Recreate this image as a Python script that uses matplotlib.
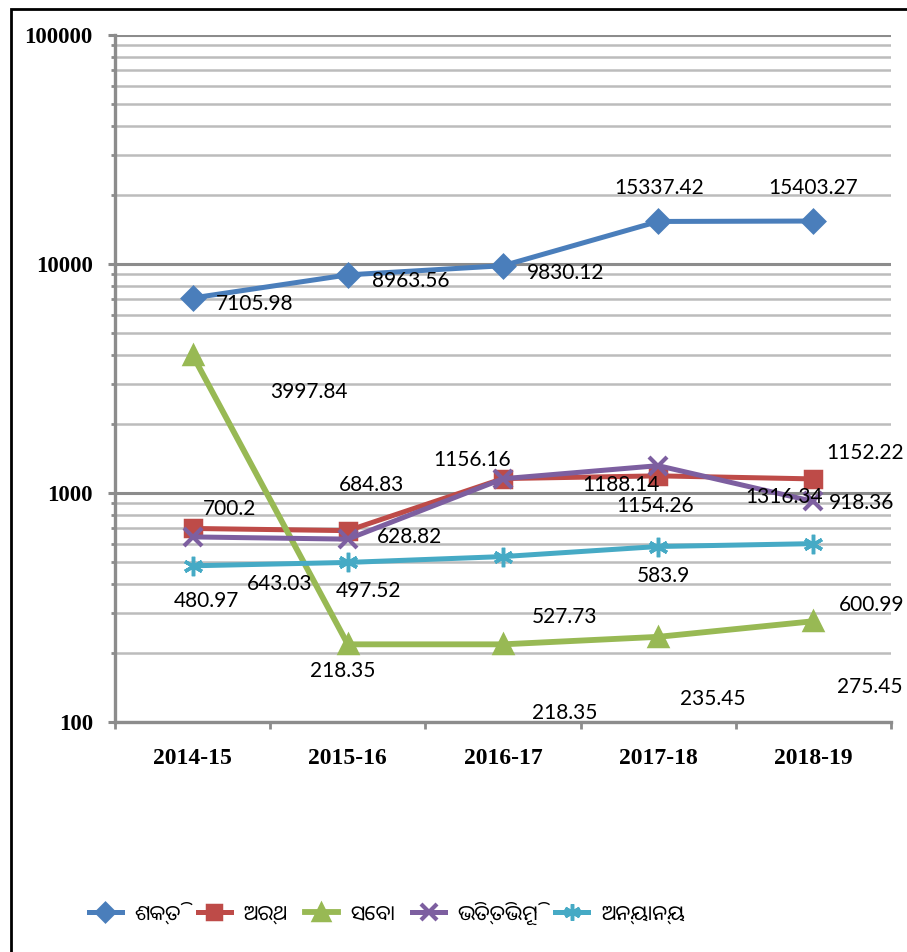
import numpy as np
import matplotlib
matplotlib.use('Agg')
import matplotlib.pyplot as plt
from matplotlib.patches import Rectangle
from matplotlib.ticker import LogLocator, NullFormatter, FixedLocator

# data
years = ['2014-15', '2015-16', '2016-17', '2017-18', '2018-19']
names = ['ଶକ୍ତି', 'ଅର୍ଥ', 'ସେବା', 'ଭିତ୍ତିଭୂମି', 'ଅନ୍ୟାନ୍ୟ']
shakti = [7105.98, 8963.56, 9830.12, 15337.42, 15403.27]
artha = [700.2, 684.83, 1156.16, 1188.14, 1152.22]
seba = [3997.84, 218.35, 218.35, 235.45, 275.45]
bhitti = [643.03, 628.82, 1154.26, 1316.34, 918.36]
anyanya = [480.97, 497.52, 527.73, 583.9, 600.99]

series = [shakti, artha, seba, bhitti, anyanya]
colors = ['#4a7ebb', '#be4b48', '#98b954', '#7d5fa0', '#46aac5']
markers = ['D', 's', '^', 'x', (6, 2, 0)]
msizes = [11, 12, 13, 13, 14]
lws = [3.6, 3.6, 4.2, 3.6, 3.6]

# label offsets in pixels (dx, dy, ha) per series per point
offs = [
    [(23, -6, 'left'), (24, -6, 'left'), (24, -7, 'left'), (1, 33, 'center'), (0, 33, 'center')],
    [(37, 19, 'center'), (24, 46, 'center'), (-31, 19, 'center'), (-37, -9, 'center'), (52, 26, 'center')],
    [(116, -37, 'center'), (-5, -27, 'center'), (62, -69, 'center'), (55, -62, 'center'), (56, -66, 'center')],
    [(87, -47, 'center'), (62, 2, 'center'), (152, -27, 'center'), (126, -31, 'center'), (48, -2, 'center')],
    [(14, -35, 'center'), (21, -29, 'center'), (62, -60, 'center'), (5, -29, 'center'), (58, -61, 'center')],
]

fig = plt.figure(figsize=(9.07, 9.52), dpi=100)
ax = fig.add_axes([115/907, 1-722/952, (891-115)/907, (722-35)/952])

x = np.arange(len(years))
for vals, c, m, ms, lw, nm, oo in zip(series, colors, markers, msizes, lws, names, offs):
    ax.plot(x, vals, color=c, lw=lw, marker=m, ms=ms, mew=3 if m == 'x' else 2.5,
            mec=c, mfc=c, label=nm, zorder=3, clip_on=False)
    for xi, v, (dx, dy, ha) in zip(x, vals, oo):
        ax.annotate(str(v), (xi, v), xytext=(dx, dy), textcoords='offset pixels',
                    ha=ha, va='center', fontsize=15, family='Lato',
                    annotation_clip=False, zorder=4)

ax.set_yscale('log')
ax.set_ylim(100, 100000)
ax.set_xlim(-0.5, 4.5)
ax.yaxis.set_major_locator(FixedLocator([100, 1000, 10000, 100000]))
ax.set_yticklabels(['100', '1000', '10000', '100000'], family='Liberation Serif',
                   fontweight='bold', fontsize=16.5)
ax.yaxis.set_minor_locator(LogLocator(base=10, subs=np.arange(2, 10)))
ax.yaxis.set_minor_formatter(NullFormatter())
ax.set_xticks(x)
ax.set_xticklabels(years, family='Liberation Serif', fontweight='bold', fontsize=17)
ax.set_xticks(np.arange(-0.5, 5), minor=True)
ax.tick_params(axis='x', which='major', length=0, pad=19)
ax.tick_params(axis='x', which='minor', length=5, width=2, color='#8c8c8c')
ax.tick_params(axis='y', which='major', length=5, width=2.2, color='#8c8c8c', pad=11)
ax.tick_params(axis='y', which='minor', length=3, width=2, color='#8c8c8c')

ax.grid(True, axis='y', which='major', color='#8c8c8c', lw=2.2)
ax.grid(True, axis='y', which='minor', color='#bcbcbc', lw=1.8)
ax.set_axisbelow(True)
for s in ['top', 'right']:
    ax.spines[s].set_visible(False)
for s in ['left', 'bottom']:
    ax.spines[s].set_color('#8c8c8c')
    ax.spines[s].set_linewidth(2.4)

leg = fig.legend(loc='center left', bbox_to_anchor=(70/907, 1-913/952), ncol=5,
                 frameon=False, handlelength=1.6, columnspacing=0.8, handletextpad=0.6,
                 markerscale=0.85,
                 prop={'family': ['Noto Sans Oriya', 'Noto Sans', 'DejaVu Sans'], 'size': 15})

# figure frame
fig.add_artist(Rectangle((11/907, -0.2), 1.2, 1-9/952+0.2, transform=fig.transFigure,
                         fill=False, ec='black', lw=2))

fig.savefig('out.png', dpi=100)
